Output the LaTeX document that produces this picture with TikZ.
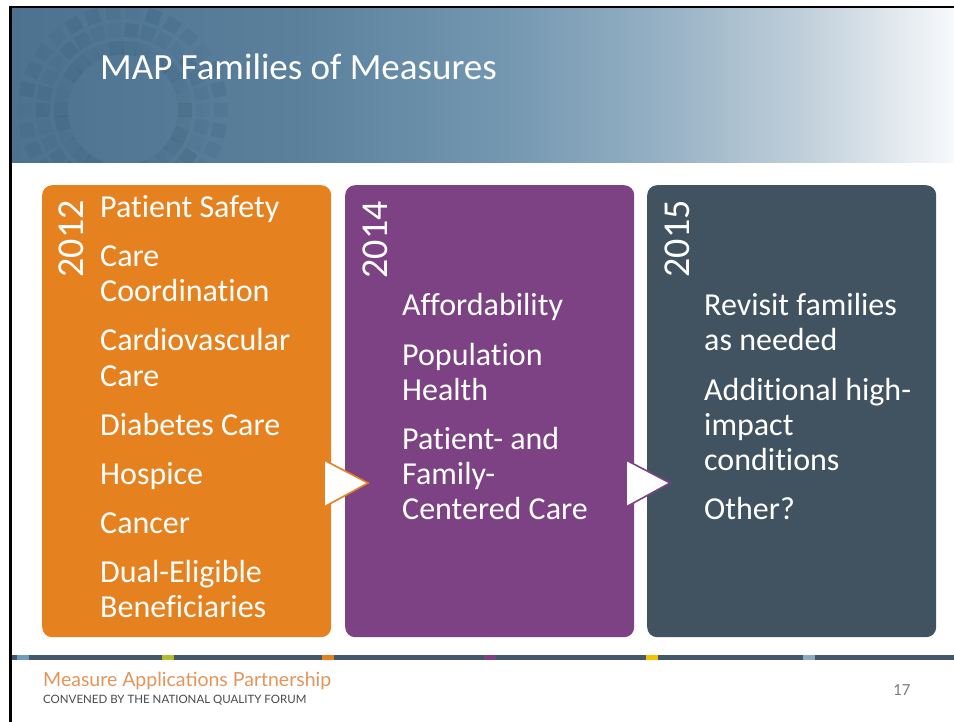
\documentclass[tikz,border=0pt]{standalone}
\usepackage{fontspec}
\setmainfont[Ligatures=NoCommon]{Carlito}
\newfontfamily\mapfont{Lato}
\usetikzlibrary{calc}
\definecolor{hdrA}{HTML}{4D7290}
\definecolor{hdrB}{HTML}{5A809C}
\definecolor{hdrC}{HTML}{7397B0}
\definecolor{hdrD}{HTML}{93AFC3}
\definecolor{hdrE}{HTML}{C0CFDA}
\definecolor{hdrF}{HTML}{F7F9FB}
\definecolor{ringc}{HTML}{2E5773}
\definecolor{orng}{HTML}{E5821F}
\definecolor{purp}{HTML}{7C4283}
\definecolor{slate}{HTML}{415360}
\definecolor{barc}{HTML}{435868}
\definecolor{segblue}{HTML}{6E9CBD}
\definecolor{seggreen}{HTML}{B3BC2C}
\definecolor{segyel}{HTML}{F2C300}
\definecolor{seglblue}{HTML}{8FAAC0}
\definecolor{maptan}{HTML}{E3955B}
\definecolor{mapgray}{HTML}{4A4A4A}
\definecolor{pagegray}{HTML}{808080}
\pgfdeclarehorizontalshading{hdrshade}{100bp}{color(0bp)=(hdrA); color(25bp)=(hdrA);
  color(40bp)=(hdrB); color(51bp)=(hdrC); color(59bp)=(hdrD); color(67bp)=(hdrE);
  color(75bp)=(hdrF); color(100bp)=(hdrF)}
\tikzset{
  panel/.style={rounded corners=10pt, inner sep=0pt, minimum width=289pt, minimum height=452pt, anchor=north west},
  year/.style={text=white, font=\fontsize{38}{38}\selectfont, rotate=90, inner sep=0pt},
  item/.style={text=white, font=\fontsize{32}{35}\selectfont, inner sep=0pt, anchor=base west},
  chev/.style={fill=white, line width=1.6pt, line join=miter},
  seg/.style={minimum width=12pt, minimum height=5pt, inner sep=0pt, anchor=north west},
}

\begin{document}
\begin{tikzpicture}[x=1pt, y=-1pt]
  \useasboundingbox (0,0) rectangle (954,722);
  \fill[white] (0,0) rectangle (954,722);

  % frame lines
  \fill[black] (9,6) rectangle (954,9);
  \fill[black] (9,6) rectangle (12,722);

  % header
  \shade[shading=hdrshade] (12,9) rectangle (954,163);
  \begin{scope}
    \clip (12,9) rectangle (954,163);
    \foreach \r in {62,80,98}{
      \foreach \a in {0,12,...,348}{
        \pgfmathsetmacro{\op}{0.05+0.05*mod(\a/12+\r/18,4)}
        \fill[ringc, opacity=\op, rotate around={\a:(123,110)}]
          ($(123,110)+(\r,0)+(-7,-7)$) rectangle ++(14,14);
      }
    }
  \end{scope}
  \node[text=white, font=\fontsize{37}{37}\selectfont, anchor=base west, inner sep=0pt] (title) at (100,80) {MAP Families of Measures};

  % panels
  \node[panel, fill=orng] (p12) at (42,185) {};
  \node[panel, fill=purp] (p14) at (345,185) {};
  \node[panel, fill=slate] (p15) at (647,185) {};

  \node[year] (y12) at (71,239) {2012};
  \node[year] (y14) at (375,240) {2014};
  \node[year] (y15) at (677,239) {2015};

  \foreach \y/\t [count=\i] in {218/Patient Safety,267/Care,302/Coordination,351/Cardiovascular,386/Care,435/Diabetes Care,484/Hospice,533/Cancer,582/Dual-Eligible,617/Beneficiaries}
    \node[item] (a\i) at (100,\y) {\t};
  \foreach \y/\t [count=\i] in {316/Affordability,365/Population,400/Health,449/Patient- and,484/Family-,519/Centered Care}
    \node[item] (b\i) at (402,\y) {\t};
  \foreach \y/\t [count=\i] in {316/Revisit families,351/as needed,400/Additional high-,435/impact,470/conditions,519/Other?}
    \node[item] (c\i) at (704,\y) {\t};

  % chevrons
  \draw[chev, draw=orng] (324,460) -- (368,483) -- (324,507) -- cycle;
  \draw[chev, draw=purp] (626,460) -- (670,483) -- (626,507) -- cycle;

  % footer
  \fill[barc] (12,655) rectangle (954,660);
  \foreach \x/\c in {17/segblue,162/seggreen,322/orng,484/purp,646/segyel,803/seglblue}
    \node[seg, fill=\c] at (\x,655) {};
  \node[text=maptan, font=\mapfont\fontsize{19.5}{19.5}\selectfont, anchor=base west, inner sep=0pt] (map) at (43,686) {Measure Applications Partnership};
  \node[text=mapgray, font=\mapfont\fontsize{11.5}{11.5}\selectfont, anchor=base west, inner sep=0pt] (nqf) at (43,703) {CONVENED BY THE NATIONAL QUALITY FORUM};
  \node[text=pagegray, font=\fontsize{17}{17}\selectfont, anchor=base west, inner sep=0pt] (pg) at (893,695) {17};
\end{tikzpicture}
\end{document}
